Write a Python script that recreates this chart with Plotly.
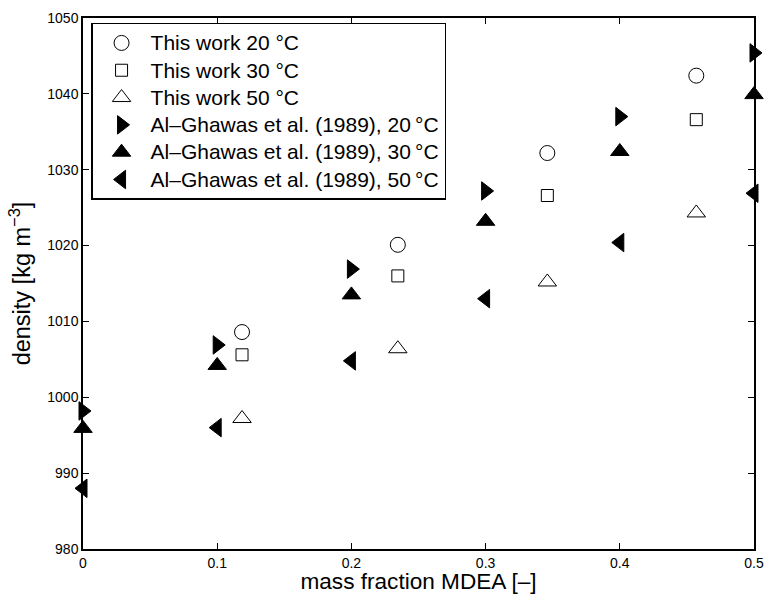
import plotly.graph_objects as go

# MDEA mass fractions and densities [kg m^-3]
x_this_work = [0.1185, 0.2346, 0.346, 0.457]
rho_this_20 = [1008.6, 1020.1, 1032.2, 1042.4]
rho_this_30 = [1005.6, 1016.0, 1026.6, 1036.6]
rho_this_50 = [997.2, 1006.4, 1015.2, 1024.3]

x_ghawas = [0.0, 0.1, 0.2, 0.3, 0.4, 0.5]
rho_ghawas_20 = [998.2, 1006.9, 1016.9, 1027.2, 1037.0, 1045.4]
rho_ghawas_30 = [995.9, 1004.2, 1013.5, 1023.2, 1032.4, 1039.9]
rho_ghawas_50 = [988.0, 996.0, 1004.8, 1013.0, 1020.4, 1026.9]

x_ticks = [0, 0.1, 0.2, 0.3, 0.4, 0.5]
x_tick_labels = ["0", "0.1", "0.2", "0.3", "0.4", "0.5"]
y_ticks = [980, 990, 1000, 1010, 1020, 1030, 1040, 1050]

FONT = "Liberation Sans, Arial, Helvetica, sans-serif"


def legend_label(text):
    # slightly larger glyphs than the legend's nominal row size
    return '<span style="font-size:21px">' + text + "</span>"


series = [
    ("This work 20 \u00b0C", x_this_work, rho_this_20, "circle-open", 15),
    ("This work 30 \u00b0C", x_this_work, rho_this_30, "square-open", 12),
    ("This work 50 \u00b0C", x_this_work, rho_this_50, "triangle-up-open", 16),
    ("Al\u2013Ghawas et al. (1989), 20\u2009\u00b0C", x_ghawas, rho_ghawas_20, "triangle-right", 16),
    ("Al\u2013Ghawas et al. (1989), 30\u2009\u00b0C", x_ghawas, rho_ghawas_30, "triangle-up", 16),
    ("Al\u2013Ghawas et al. (1989), 50\u2009\u00b0C", x_ghawas, rho_ghawas_50, "triangle-left", 16),
]

fig = go.Figure()
for name, xs, ys, sym, size in series:
    fig.add_trace(go.Scatter(
        x=xs, y=ys, mode="markers", name=legend_label(name), cliponaxis=False,
        marker=dict(symbol=sym, size=size, color="black",
                    line=dict(color="black", width=1)),
    ))

axis_common = dict(
    showline=True, linecolor="black", linewidth=1.5, mirror="ticks",
    ticks="inside", ticklen=6, tickwidth=1, tickcolor="black",
    showgrid=False, zeroline=False,
    tickfont=dict(family=FONT, size=14, color="black"),
)

fig.update_xaxes(
    range=[0, 0.5], tickvals=x_ticks, ticktext=x_tick_labels,
    title=dict(text="mass fraction MDEA [\u2013]", standoff=3,
               font=dict(family=FONT, size=22.6, color="black")),
    **axis_common,
)
fig.update_yaxes(
    range=[980, 1050], tickvals=y_ticks,
    title=dict(text="density [kg m<sup>\u22123</sup>]", standoff=10,
               font=dict(family=FONT, size=23.5, color="black")),
    **axis_common,
)

fig.update_layout(
    width=766, height=594,
    margin=dict(l=83, r=12, t=18, b=45, autoexpand=False),
    paper_bgcolor="white", plot_bgcolor="white",
    font=dict(family=FONT, color="black"),
    showlegend=True,
    legend=dict(
        x=0.012, y=0.991, xanchor="left", yanchor="top",
        bgcolor="white", bordercolor="black", borderwidth=1.5,
        font=dict(family=FONT, size=18.7, color="black"),
        itemwidth=48, tracegroupgap=0,
    ),
)

fig.write_html("out.html")
